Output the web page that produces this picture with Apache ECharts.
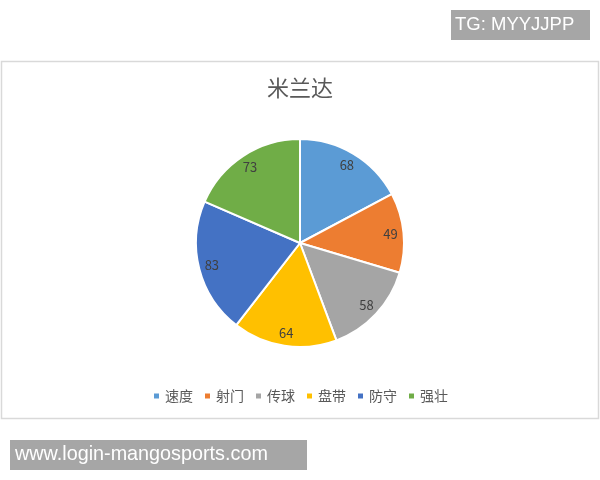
<!DOCTYPE html>
<html>
<head>
<meta charset="utf-8">
<script src="https://cdn.jsdelivr.net/npm/echarts@6/dist/echarts.min.js"></script>
<style>
html,body{margin:0;padding:0;background:#fff;}
#main{width:600px;height:480px;}
</style>
</head>
<body>
<div id="main"></div>
<script>
const titleText = '米兰达';
const categories = ['速度', '射门', '传球', '盘带', '防守', '强壮'];
const values = [68, 49, 58, 64, 83, 73];
const colors = ['#5B9BD5', '#ED7D31', '#A5A5A5', '#FFC000', '#4472C4', '#70AD47'];

const cjk = '"Noto Sans CJK SC", "Microsoft YaHei", sans-serif';
const chart = echarts.init(document.getElementById('main'), null, {renderer: 'canvas'});
const data = categories.map((c, i) => ({name: c, value: values[i]}));

chart.setOption({
  backgroundColor: '#ffffff',
  animation: false,
  color: colors,
  title: {
    text: titleText,
    left: 'center',
    top: 72,
    textStyle: {fontFamily: cjk, fontSize: 22, fontWeight: 'normal', color: '#595959'}
  },
  legend: {
    data: categories,
    left: 'center',
    top: 384,
    icon: 'rect',
    itemWidth: 7,
    itemHeight: 7,
    itemGap: 10,
    textStyle: {fontFamily: cjk, fontSize: 14, color: '#595959'}
  },
  graphic: [
    {type: 'rect', shape: {x: 1.5, y: 61.5, width: 597, height: 357}, style: {fill: 'none', stroke: '#D9D9D9', lineWidth: 1.5}, z: -1},
    {type: 'rect', shape: {x: 451, y: 10, width: 139, height: 30}, style: {fill: '#A6A6A6'}},
    {type: 'text', x: 455, y: 25, style: {text: 'TG: MYYJJPP', fill: '#ffffff', font: '18.5px "Liberation Sans", Arial, sans-serif', textVerticalAlign: 'middle'}},
    {type: 'rect', shape: {x: 10, y: 440, width: 297, height: 30}, style: {fill: '#A6A6A6'}},
    {type: 'text', x: 15, y: 455, style: {text: 'www.login-mangosports.com', fill: '#ffffff', font: '19.8px "Liberation Sans", Arial, sans-serif', textVerticalAlign: 'middle'}}
  ],
  series: [
    {
      type: 'pie',
      center: [300, 243],
      radius: [0, 104],
      startAngle: 90,
      clockwise: true,
      data: data,
      label: {show: false},
      labelLine: {show: false},
      itemStyle: {borderColor: '#ffffff', borderWidth: 2},
      emphasis: {disabled: true}
    },
    {
      type: 'pie',
      center: [300, 243],
      radius: [72, 104],
      startAngle: 90,
      clockwise: true,
      silent: true,
      data: data,
      itemStyle: {color: 'transparent', borderWidth: 0},
      label: {show: true, position: 'inside', formatter: '{c}', fontFamily: cjk, fontSize: 13, color: '#404040'},
      labelLine: {show: false},
      emphasis: {disabled: true}
    }
  ]
});
</script>
</body>
</html>
